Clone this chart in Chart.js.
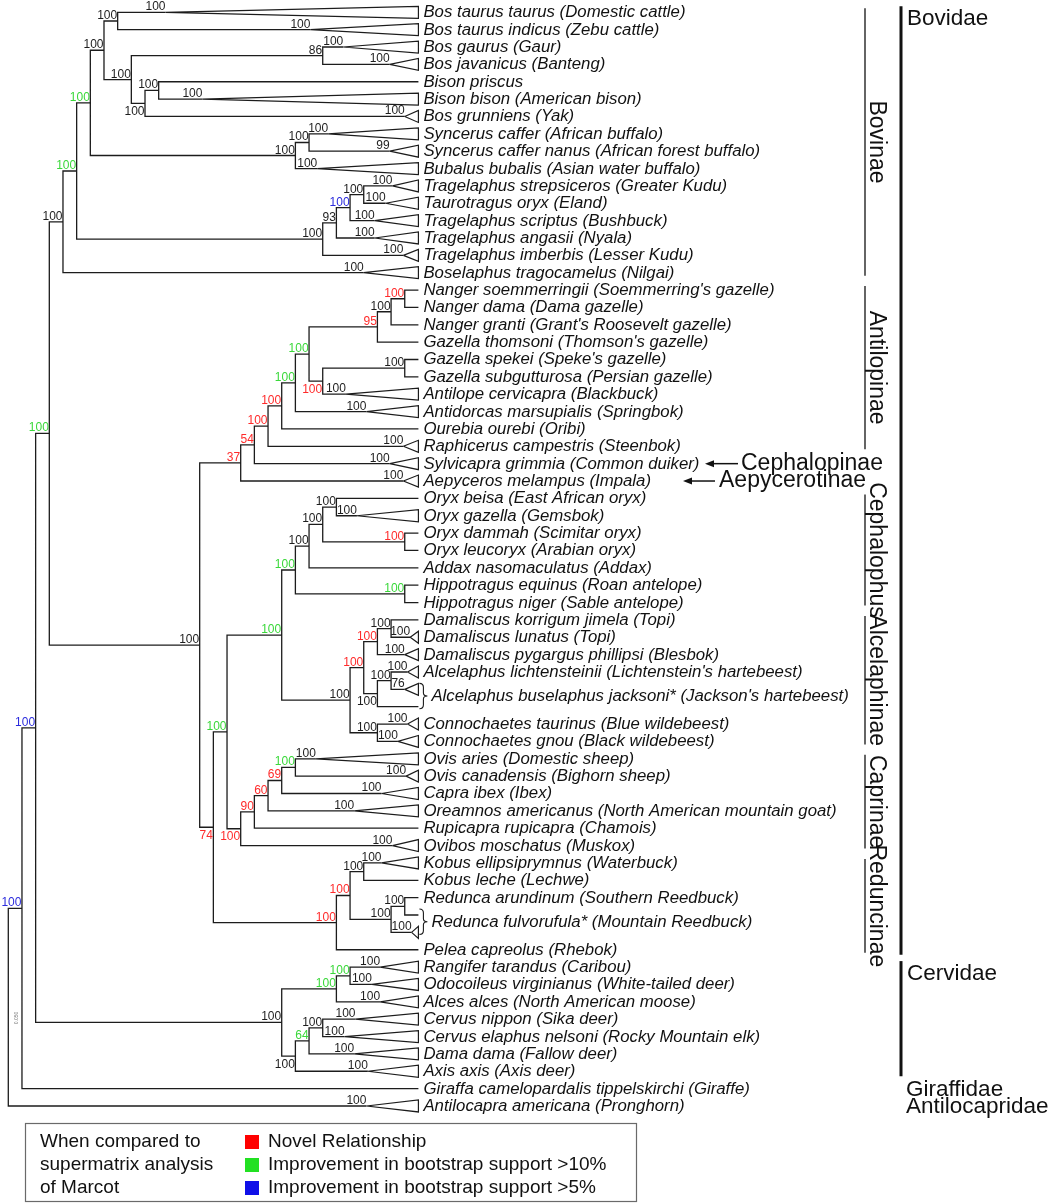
<!DOCTYPE html>
<html>
<head>
<meta charset="utf-8">
<title>Bovidae supertree</title>
<script src="https://cdn.jsdelivr.net/npm/chart.js"></script>
<style>
  html, body { margin: 0; padding: 0; background: #ffffff; }
  #box { width: 1050px; height: 1203px; }
</style>
</head>
<body>
<div id="box"><canvas id="myChart" width="1050" height="1203"></canvas></div>
<script>
// ---- tips, top to bottom (null = tip shown under a brace label) ----
const taxa = [
  'Bos taurus taurus (Domestic cattle)',
  'Bos taurus indicus (Zebu cattle)',
  'Bos gaurus (Gaur)',
  'Bos javanicus (Banteng)',
  'Bison priscus',
  'Bison bison (American bison)',
  'Bos grunniens (Yak)',
  'Syncerus caffer (African buffalo)',
  'Syncerus caffer nanus (African forest buffalo)',
  'Bubalus bubalis (Asian water buffalo)',
  'Tragelaphus strepsiceros (Greater Kudu)',
  'Taurotragus oryx (Eland)',
  'Tragelaphus scriptus (Bushbuck)',
  'Tragelaphus angasii (Nyala)',
  'Tragelaphus imberbis (Lesser Kudu)',
  'Boselaphus tragocamelus (Nilgai)',
  "Nanger soemmerringii (Soemmerring's gazelle)",
  'Nanger dama (Dama gazelle)',
  "Nanger granti (Grant's Roosevelt gazelle)",
  "Gazella thomsoni (Thomson's gazelle)",
  "Gazella spekei (Speke's gazelle)",
  'Gazella subgutturosa (Persian gazelle)',
  'Antilope cervicapra (Blackbuck)',
  'Antidorcas marsupialis (Springbok)',
  'Ourebia ourebi (Oribi)',
  'Raphicerus campestris (Steenbok)',
  'Sylvicapra grimmia (Common duiker)',
  'Aepyceros melampus (Impala)',
  'Oryx beisa (East African oryx)',
  'Oryx gazella (Gemsbok)',
  'Oryx dammah (Scimitar oryx)',
  'Oryx leucoryx (Arabian oryx)',
  'Addax nasomaculatus (Addax)',
  'Hippotragus equinus (Roan antelope)',
  'Hippotragus niger (Sable antelope)',
  'Damaliscus korrigum jimela (Topi)',
  'Damaliscus lunatus (Topi)',
  'Damaliscus pygargus phillipsi (Blesbok)',
  "Alcelaphus lichtensteinii (Lichtenstein's hartebeest)",
  null, null,
  'Connochaetes taurinus (Blue wildebeest)',
  'Connochaetes gnou (Black wildebeest)',
  'Ovis aries (Domestic sheep)',
  'Ovis canadensis (Bighorn sheep)',
  'Capra ibex (Ibex)',
  'Oreamnos americanus (North American mountain goat)',
  'Rupicapra rupicapra (Chamois)',
  'Ovibos moschatus (Muskox)',
  'Kobus ellipsiprymnus (Waterbuck)',
  'Kobus leche (Lechwe)',
  'Redunca arundinum (Southern Reedbuck)',
  null, null,
  'Pelea capreolus (Rhebok)',
  'Rangifer tarandus (Caribou)',
  'Odocoileus virginianus (White-tailed deer)',
  'Alces alces (North American moose)',
  'Cervus nippon (Sika deer)',
  'Cervus elaphus nelsoni (Rocky Mountain elk)',
  'Dama dama (Fallow deer)',
  'Axis axis (Axis deer)',
  'Giraffa camelopardalis tippelskirchi (Giraffe)',
  'Antilocapra americana (Pronghorn)'
];

// depth where a collapsed clade (triangle) starts, null = plain tip
const tipApex = [
  11.5, 22.1, 24.5, 27.9, null, 14.2, 29.0, 23.4, 27.9, 22.6,
  28.1, 27.6, 26.8, 26.8, 28.9, 26.0, null, null, null, null,
  null, null, 24.7, 26.2, null, 28.9, 27.9, 28.9, null, 25.5,
  null, null, null, null, null, null, 29.4, 29.0, 29.2, 29.0,
  null, 29.2, 28.5, 22.5, 29.1, 27.3, 25.3, null, 28.1, 27.3,
  null, null, null, 29.5, null, 27.2, 26.6, 27.2, 25.4, 24.6,
  25.3, 26.3, null, 26.2
];
const tipSupport = [
  100, 100, 100, 100, null, 100, 100, 100, 99, 100,
  100, 100, 100, 100, 100, 100, null, null, null, null,
  null, null, 100, 100, null, 100, 100, 100, null, 100,
  null, null, null, null, null, null, 100, 100, 100, 76,
  null, 100, 100, 100, 100, 100, 100, null, 100, 100,
  null, null, null, 100, null, 100, 100, 100, 100, 100,
  100, 100, null, 100
];

// several tips joined by one brace label
const braceRows = [[39, 40], [52, 53]];
const braceNames = ["Alcelaphus buselaphus jacksoni* (Jackson's hartebeest)", 'Redunca fulvorufula* (Mountain Reedbuck)'];

// ---- internal nodes ----
const nodeIds = [
  'bt', 'gau', 'bis', 'bisy', 'bosb', 'bos', 'syn', 'bub', 'bovini', 'tra1', 'tra2', 'tra3', 'trag', 'bovi2', 'bovinae',
  'nan1', 'nan2', 'gaz1', 'gaz2', 'ant', 'ant2', 'ant3', 'ant4', 'ant5', 'ant6', 'ant7',
  'ory1', 'ory2', 'ory3', 'add', 'hip', 'hipp', 'dam1', 'dam2', 'alc1', 'alc2', 'alc3', 'con', 'alcel', 'hipal',
  'ovis', 'cap1', 'cap2', 'cap3', 'caprinae', 'hac',
  'kob', 'red1', 'red2', 'red3', 'redunc', 'n74', 'n200', 'bovidae',
  'cer1', 'cer2', 'cer3', 'cer4', 'cer5', 'cervidae', 'pecora', 'gir', 'root'
];
const nodeDepth = [
  8, 23, 11, 10, 9, 7, 22, 21, 6, 26, 25, 24, 23, 5, 4,
  29, 28, 27, 29, 23, 22, 21, 20, 19, 18, 17,
  24, 29, 23, 22, 29, 21, 28, 27, 28, 27, 26, 27, 25, 20,
  21, 20, 19, 18, 17, 16,
  26, 29, 28, 25, 24, 15, 14, 3,
  25, 24, 23, 22, 21, 20, 2, 1, 0
];
const nodeSupport = [
  100, 86, 100, 100, 100, 100, 100, 100, 100, 100, 100, 93, 100, 100, 100,
  100, 100, 95, 100, 100, 100, 100, 100, 100, 54, 37,
  100, 100, 100, 100, 100, 100, 100, 100, 100, 100, 100, 100, 100, 100,
  100, 69, 60, 90, 100, 100,
  100, 100, 100, 100, 100, 74, 100, 100,
  100, 100, 100, 64, 100, 100, 100, 100, null
];
// n = novel relationship, g = support up >10%, b = support up >5%
const nodeMark = [
  '', '', '', '', '', '', '', '', 'g', '', 'b', '', '', 'g', '',
  'n', '', 'n', '', 'n', 'g', 'g', 'n', 'n', 'n', 'n',
  '', 'n', '', '', 'g', 'g', '', 'n', '', '', 'n', '', '', 'g',
  'g', 'n', 'n', 'n', 'n', 'g',
  '', '', '', 'n', 'n', 'n', '', 'g',
  'g', 'g', '', 'g', '', '', 'b', 'b', ''
];
const nodeKids = [
  [0, 1], [2, 3], [4, 5], ['bis', 6], ['gau', 'bisy'], ['bt', 'bosb'], [7, 8], ['syn', 9], ['bos', 'bub'],
  [10, 11], ['tra1', 12], ['tra2', 13], ['tra3', 14], ['bovini', 'trag'], ['bovi2', 15],
  [16, 17], ['nan1', 18], ['nan2', 19], [20, 21], ['gaz2', 22], ['gaz1', 'ant'], ['ant2', 23], ['ant3', 24],
  ['ant4', 25], ['ant5', 26], ['ant6', 27],
  [28, 29], [30, 31], ['ory1', 'ory2'], ['ory3', 32], [33, 34], ['add', 'hip'], [35, 36], ['dam1', 37],
  [38, 39], ['alc1', 40], ['dam2', 'alc2'], [41, 42], ['alc3', 'con'], ['hipp', 'alcel'],
  [43, 44], ['ovis', 45], ['cap1', 46], ['cap2', 47], ['cap3', 48], ['hipal', 'caprinae'],
  [49, 50], [51, 52], ['red1', 53], ['kob', 'red2'], ['red3', 54], ['hac', 'redunc'], ['ant7', 'n74'], ['bovinae', 'n200'],
  [55, 56], ['cer1', 57], [58, 59], ['cer3', 60], ['cer4', 61], ['cer2', 'cer5'], ['bovidae', 'cervidae'], ['pecora', 62], ['gir', 63]
];
const labelBelow = ['bisy', 'ant', 'alc2', 'caprinae', 'n74', 'cer5'];

// ---- clade annotations on the right ----
const subfamilies = ['Bovinae', 'Antilopinae', 'Cephalophus', 'Alcelaphinae', 'Caprinae', 'Reduncinae'];
const subfamilyRows = [[0, 15], [16, 25], [28, 34], [35, 42], [43, 48], [49, 54]];
const families = ['Bovidae', 'Cervidae', 'Giraffidae', 'Antilocapridae'];
const familyRows = [[0, 54], [55, 61], [62, 62], [63, 63]];
const pointers = ['Cephalopinae', 'Aepycerotinae'];
const pointerRows = [26, 27];

const legendNote = ['When compared to', 'supermatrix analysis', 'of Marcot'];
const legendLabels = ['Novel Relationship', 'Improvement in bootstrap support >10%', 'Improvement in bootstrap support >5%'];

// ---- styling ----
const FONT = '"Liberation Sans", Arial, sans-serif';
const TIP_DEPTH = 30;
const TRI_HALF = 0.345;
const LINE = '#1c1c1c';
const markColor = { '': '#1e1e1e', n: '#ff2b2b', g: '#3ad83a', b: '#2b2bdd' };
const legendSwatch = ['#ff0000', '#22e022', '#1010e8'];
const pointerX = [[705, 738, 741], [683, 715, 719]];

function nodeIndex(id) { return nodeIds.indexOf(id); }
function rowOf(k) {
  if (typeof k === 'number') return k;
  const kids = nodeKids[nodeIndex(k)];
  return (rowOf(kids[0]) + rowOf(kids[kids.length - 1])) / 2;
}
function depthOf(k) {
  if (typeof k === 'number') return tipApex[k] ?? TIP_DEPTH;
  return nodeDepth[nodeIndex(k)];
}

const gap = { x: null, y: null };
const branchPts = [];
nodeIds.forEach((id, i) => {
  const ny = rowOf(id);
  nodeKids[i].forEach(k => {
    const ky = rowOf(k);
    branchPts.push({ x: nodeDepth[i], y: ny }, { x: nodeDepth[i], y: ky }, { x: depthOf(k), y: ky }, gap);
  });
});
const trianglePts = [];
tipApex.forEach((a, r) => {
  if (a === null) return;
  trianglePts.push({ x: a, y: r }, { x: TIP_DEPTH, y: r - TRI_HALF }, { x: TIP_DEPTH, y: r + TRI_HALF }, { x: a, y: r }, gap);
});

function brace(ctx, x0, y0, y1) {
  const m = (y0 + y1) / 2;
  ctx.beginPath();
  ctx.moveTo(x0, y0);
  ctx.quadraticCurveTo(x0 + 4, y0, x0 + 4, y0 + 4);
  ctx.lineTo(x0 + 4, m - 3);
  ctx.quadraticCurveTo(x0 + 4, m, x0 + 8, m);
  ctx.quadraticCurveTo(x0 + 4, m, x0 + 4, m + 3);
  ctx.lineTo(x0 + 4, y1 - 4);
  ctx.quadraticCurveTo(x0 + 4, y1, x0, y1);
  ctx.stroke();
}

const treeText = {
  id: 'treeText',
  afterDatasetsDraw(chart) {
    const { ctx, scales: { x, y } } = chart;
    const tipPx = x.getPixelForValue(TIP_DEPTH);
    ctx.save();

    // taxon names
    ctx.fillStyle = '#111';
    ctx.font = 'italic 16.8px ' + FONT;
    ctx.textAlign = 'left';
    ctx.textBaseline = 'alphabetic';
    taxa.forEach((name, r) => {
      if (name) ctx.fillText(name, tipPx + 5, y.getPixelForValue(r) + 5);
    });
    ctx.strokeStyle = LINE;
    ctx.lineWidth = 1.1;
    braceRows.forEach((rr, i) => {
      const y0 = y.getPixelForValue(rr[0]) - 6;
      const y1 = y.getPixelForValue(rr[1]) + 2;
      brace(ctx, tipPx + 1, y0, y1);
      ctx.fillText(braceNames[i], tipPx + 13, (y0 + y1) / 2 + 5);
    });

    // support values
    ctx.font = '12px ' + FONT;
    ctx.textAlign = 'right';
    nodeIds.forEach((id, i) => {
      if (nodeSupport[i] === null) return;
      const px = x.getPixelForValue(nodeDepth[i]);
      const py = y.getPixelForValue(rowOf(id));
      ctx.fillStyle = markColor[nodeMark[i]];
      const below = labelBelow.includes(id);
      ctx.fillText(String(nodeSupport[i]), px - 0.5, below ? py + 11.5 : py - 2);
    });
    ctx.fillStyle = markColor[''];
    tipApex.forEach((a, r) => {
      if (a === null) return;
      ctx.fillText(String(tipSupport[r]), x.getPixelForValue(a), y.getPixelForValue(r) - 2);
    });

    // subfamily bars with rotated names
    ctx.strokeStyle = '#111';
    ctx.fillStyle = '#111';
    ctx.lineWidth = 1.3;
    ctx.font = '23px ' + FONT;
    ctx.textAlign = 'center';
    subfamilies.forEach((name, i) => {
      const y0 = y.getPixelForValue(subfamilyRows[i][0]) - 4;
      const y1 = y.getPixelForValue(subfamilyRows[i][1]) + 3;
      ctx.beginPath();
      ctx.moveTo(865, y0);
      ctx.lineTo(865, y1);
      ctx.stroke();
      ctx.save();
      ctx.translate(869.5, (y0 + y1) / 2);
      ctx.rotate(Math.PI / 2);
      ctx.fillText(name, 0, 0);
      ctx.restore();
    });

    // family bars
    ctx.textAlign = 'left';
    ctx.font = '22.5px ' + FONT;
    families.forEach((name, i) => {
      const [a, b] = familyRows[i];
      if (a === b) {
        ctx.textBaseline = 'middle';
        ctx.fillText(name, 906, y.getPixelForValue(a) + 1);
        return;
      }
      const y0 = y.getPixelForValue(a) - 6;
      const y1 = y.getPixelForValue(b) + 5;
      ctx.lineWidth = 3;
      ctx.beginPath();
      ctx.moveTo(901, y0);
      ctx.lineTo(901, y1);
      ctx.stroke();
      ctx.textBaseline = 'alphabetic';
      ctx.fillText(name, 907, y0 + 19);
    });

    // pointer arrows
    ctx.font = '23px ' + FONT;
    ctx.textBaseline = 'middle';
    ctx.lineWidth = 1.5;
    pointers.forEach((name, i) => {
      const py = y.getPixelForValue(pointerRows[i]);
      const [tip, tail, tx] = pointerX[i];
      ctx.beginPath();
      ctx.moveTo(tip + 6, py);
      ctx.lineTo(tail, py);
      ctx.stroke();
      ctx.beginPath();
      ctx.moveTo(tip, py);
      ctx.lineTo(tip + 9, py - 3.5);
      ctx.lineTo(tip + 9, py + 3.5);
      ctx.closePath();
      ctx.fill();
      ctx.fillText(name, tx, py);
    });

    // tiny scale note at the root
    ctx.save();
    ctx.fillStyle = '#777';
    ctx.font = '5px ' + FONT;
    ctx.textAlign = 'center';
    ctx.translate(17, 1018);
    ctx.rotate(-Math.PI / 2);
    ctx.fillText('0.050', 0, 0);
    ctx.restore();

    // legend box
    ctx.strokeStyle = '#6a6a6a';
    ctx.lineWidth = 1.2;
    ctx.strokeRect(25.5, 1123.5, 611, 78);
    ctx.font = '19px ' + FONT;
    ctx.textAlign = 'left';
    ctx.textBaseline = 'middle';
    const rowsY = [1142, 1165, 1188];
    legendNote.forEach((t, i) => { ctx.fillStyle = '#111'; ctx.fillText(t, 40, rowsY[i]); });
    legendLabels.forEach((t, i) => {
      ctx.fillStyle = legendSwatch[i];
      ctx.fillRect(245, rowsY[i] - 7, 14, 14);
      ctx.fillStyle = '#111';
      ctx.fillText(t, 268, rowsY[i]);
    });
    ctx.restore();
  }
};

const ctx = document.getElementById('myChart');
new Chart(ctx, {
  type: 'scatter',
  data: {
    datasets: [
      {
        label: 'branches',
        data: branchPts,
        showLine: true,
        spanGaps: false,
        borderColor: LINE,
        borderWidth: 1.3,
        pointRadius: 0,
        pointHoverRadius: 0,
        tension: 0
      },
      {
        label: 'collapsed clades',
        data: trianglePts,
        showLine: true,
        spanGaps: false,
        borderColor: LINE,
        borderWidth: 1.2,
        pointRadius: 0,
        pointHoverRadius: 0,
        tension: 0
      }
    ]
  },
  plugins: [treeText],
  options: {
    responsive: false,
    animation: false,
    events: [],
    layout: { padding: 0 },
    scales: {
      x: { type: 'linear', display: false, min: -0.607, max: 76.2 },
      y: { type: 'linear', display: false, reverse: true, min: -0.7085, max: 68.589 }
    },
    plugins: {
      legend: { display: false },
      tooltip: { enabled: false }
    }
  }
});
</script>
</body>
</html>
